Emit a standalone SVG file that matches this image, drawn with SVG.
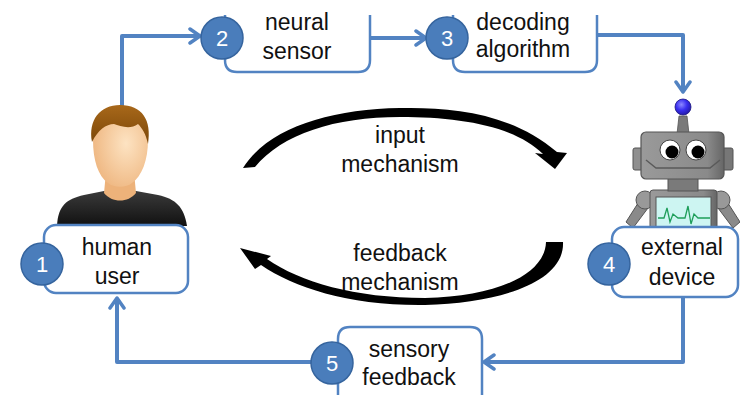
<svg xmlns="http://www.w3.org/2000/svg" width="740" height="395" viewBox="0 0 740 395">
  <style>
    .box { fill: #ffffff; stroke: #5283C2; stroke-width: 2.5; }
    .badge { fill: #4A7DBB; stroke: #35649E; stroke-width: 1.5; }
    .num { font-family: "Liberation Sans", Arial, sans-serif; font-size: 22px; fill: #ffffff; text-anchor: middle; }
    .lbl { font-family: "Liberation Sans", Arial, sans-serif; font-size: 23px; fill: #111111; text-anchor: middle; }
    .conn { fill: none; stroke: #5283C2; stroke-width: 4; stroke-linejoin: round; }
    .loop { fill: #000000; }
  </style>
  <defs>
    <marker id="chev" markerUnits="userSpaceOnUse" viewBox="0 0 16 18" refX="13" refY="9" markerWidth="16" markerHeight="18" orient="auto">
      <path d="M3,2 L13,9 L3,16" fill="none" stroke="#5283C2" stroke-width="3.5" stroke-linecap="round" stroke-linejoin="round"/>
    </marker>
    <linearGradient id="hair" x1="0" y1="0" x2="0" y2="1">
      <stop offset="0" stop-color="#A8681A"/>
      <stop offset="1" stop-color="#7A4608"/>
    </linearGradient>
    <radialGradient id="skin" cx="0.6" cy="0.45" r="0.7">
      <stop offset="0" stop-color="#FDE3C2"/>
      <stop offset="1" stop-color="#EDB27A"/>
    </radialGradient>
    <linearGradient id="shirt" x1="0" y1="0" x2="0" y2="1">
      <stop offset="0" stop-color="#3A3A3A"/>
      <stop offset="1" stop-color="#111111"/>
    </linearGradient>
    <radialGradient id="ball" cx="0.4" cy="0.35" r="0.7">
      <stop offset="0" stop-color="#8C88FF"/>
      <stop offset="0.5" stop-color="#3A2FF0"/>
      <stop offset="1" stop-color="#2018A0"/>
    </radialGradient>
    <linearGradient id="metal" x1="0" y1="0" x2="1" y2="0">
      <stop offset="0" stop-color="#9A9A9A"/>
      <stop offset="0.8" stop-color="#8A8A8A"/>
      <stop offset="1" stop-color="#666666"/>
    </linearGradient>
  </defs>

  <!-- central loop arrows -->
  <g id="loop-arrows">
    <path class="loop" d="M243,168 C268,128 330,109 400,108 C450,107 510,112 557,152 L567,153 L555,169 L535,153 L543,154 C515,126 460,117 400,117 C335,117 282,134 255,167 Z"/>
    <path class="loop" d="M546,242 L563,242 C565,282 500,303 425,305 C350,306 295,288 261,265 L255,269 L240,248 L271,256 L267,259 C300,282 355,298 425,298 C495,297 545,275 546,242 Z"/>
    <text class="lbl" x="400" y="143">input</text>
    <text class="lbl" x="400" y="172">mechanism</text>
    <text class="lbl" x="400" y="261">feedback</text>
    <text class="lbl" x="400" y="290">mechanism</text>
  </g>

  <!-- connectors -->
  <g id="connectors">
    <path class="conn" d="M122,106 V36 H200" marker-end="url(#chev)"/>
    <path class="conn" d="M370,38 H426" marker-end="url(#chev)"/>
    <path class="conn" d="M597,35 H683 V92" marker-end="url(#chev)"/>
    <path class="conn" d="M683,297 V362 H484" marker-end="url(#chev)"/>
    <path class="conn" d="M311,362 H117 V298" marker-end="url(#chev)"/>
  </g>

  <!-- 1: human user -->
  <g id="node-human-user">
    <path d="M57,226 C58,206 66,199 84,195 L104,191 L136,191 L158,195 C176,199 184,207 187,226 Z" fill="url(#shirt)"/>
    <path d="M106,172 L134,172 L136,193 C128,203 112,203 104,193 Z" fill="#EDB27A"/>
    <path d="M93,140 C93,118 104,108 120,108 C137,108 148,118 148,140 C148,160 142,176 132,183 C126,188 114,188 108,183 C98,176 93,160 93,140 Z" fill="url(#skin)"/>
    <path d="M92,142 C88,120 100,105 120,105 C142,105 152,120 148,144 C146,134 142,128 138,124 C130,130 120,126 114,124 C106,124 98,130 92,142 Z" fill="url(#hair)"/>
    <rect class="box" x="44" y="225" width="144" height="68" rx="12"/>
    <circle class="badge" cx="42" cy="264" r="21"/>
    <text class="num" x="42" y="272">1</text>
    <text class="lbl" x="117" y="255">human</text>
    <text class="lbl" x="117" y="284">user</text>
  </g>

  <!-- 2: neural sensor -->
  <g id="node-neural-sensor">
    <path class="box" d="M225,15 V60 Q225,72 237,72 H358 Q370,72 370,60 V15"/>
    <circle class="badge" cx="222" cy="38" r="21"/>
    <text class="num" x="222" y="46">2</text>
    <text class="lbl" x="297" y="30">neural</text>
    <text class="lbl" x="297" y="59">sensor</text>
  </g>

  <!-- 3: decoding algorithm -->
  <g id="node-decoding-algorithm">
    <path class="box" d="M453,15 V60 Q453,72 465,72 H585 Q597,72 597,60 V15"/>
    <circle class="badge" cx="447" cy="38" r="21"/>
    <text class="num" x="447" y="46">3</text>
    <text class="lbl" x="523" y="30">decoding</text>
    <text class="lbl" x="523" y="57">algorithm</text>
  </g>

  <!-- 4: external device -->
  <g id="node-external-device">
    <!-- robot -->
    <path d="M640,200 L626,222 L633,228 L648,208 Z" fill="#8A8A8A" stroke="#555" stroke-width="1"/>
    <path d="M726,200 L740,222 L733,228 L718,208 Z" fill="#8A8A8A" stroke="#555" stroke-width="1"/>
    <circle cx="645" cy="200" r="9" fill="#999" stroke="#555" stroke-width="1"/>
    <circle cx="721" cy="200" r="9" fill="#999" stroke="#555" stroke-width="1"/>
    <rect x="650" y="190" width="67" height="42" rx="3" fill="url(#metal)" stroke="#555" stroke-width="1"/>
    <rect x="656" y="197" width="55" height="32" fill="#CDF5F2" stroke="#555" stroke-width="1"/>
    <polyline points="658,218 664,218 667,208 670,222 673,214 678,218 685,218 688,206 691,224 694,214 698,218 710,218" fill="none" stroke="#1E9E5A" stroke-width="1.3"/>
    <rect x="668" y="177" width="30" height="14" fill="#7A7A7A" stroke="#555" stroke-width="1"/>
    <rect x="633" y="148" width="12" height="22" rx="2" fill="#8F8F8F" stroke="#555" stroke-width="1"/>
    <rect x="721" y="148" width="12" height="22" rx="2" fill="#777" stroke="#555" stroke-width="1"/>
    <path d="M679,116 L687,116 L689,134 L677,134 Z" fill="#7A7A7A" stroke="#555" stroke-width="0.8"/>
    <rect x="641" y="132" width="83" height="47" rx="5" fill="url(#metal)" stroke="#555" stroke-width="1.2"/>
    <path d="M646,160 L656,168 L710,168 L720,160" fill="none" stroke="#5A5A5A" stroke-width="1.5"/>
    <circle cx="670" cy="150" r="10" fill="#FFFFFF" stroke="#444" stroke-width="1"/>
    <circle cx="696" cy="150" r="10" fill="#FFFFFF" stroke="#444" stroke-width="1"/>
    <circle cx="672" cy="152" r="6.5" fill="#000"/>
    <circle cx="698" cy="152" r="6.5" fill="#000"/>
    <circle cx="683" cy="107" r="8" fill="url(#ball)" stroke="#1A1480" stroke-width="0.8"/>
    <rect class="box" x="612" y="227" width="126" height="70" rx="12"/>
    <circle class="badge" cx="609" cy="264" r="21"/>
    <text class="num" x="609" y="272">4</text>
    <text class="lbl" x="682" y="255">external</text>
    <text class="lbl" x="682" y="285">device</text>
  </g>

  <!-- 5: sensory feedback -->
  <g id="node-sensory-feedback">
    <path class="box" d="M338,400 V339 Q338,327 350,327 H470 Q482,327 482,339 V400"/>
    <circle class="badge" cx="332" cy="363" r="21"/>
    <text class="num" x="332" y="371">5</text>
    <text class="lbl" x="409" y="357">sensory</text>
    <text class="lbl" x="409" y="385">feedback</text>
  </g>
</svg>
